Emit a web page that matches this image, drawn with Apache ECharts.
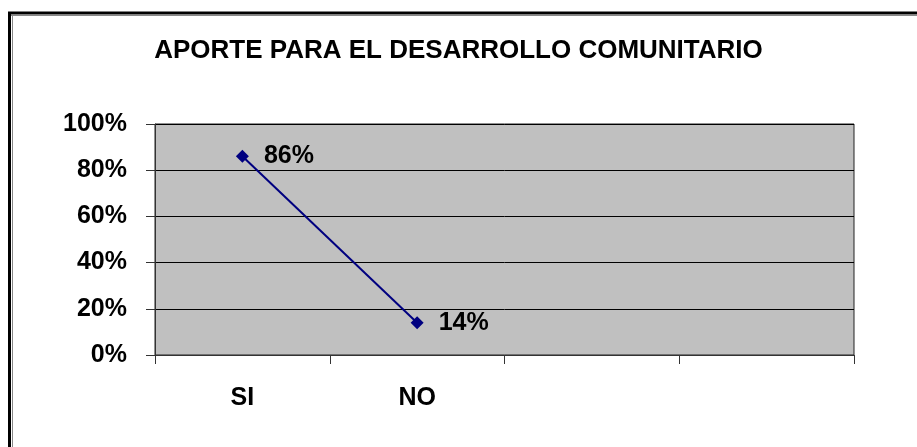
<!DOCTYPE html>
<html>
<head>
<meta charset="utf-8">
<script src="https://cdn.jsdelivr.net/npm/echarts@6/dist/echarts.min.js"></script>
<style>
html,body{margin:0;padding:0;background:#fff;}
#chart{width:917px;height:447px;}
</style>
</head>
<body>
<div id="chart"></div>
<script>
var titleText = 'APORTE PARA EL DESARROLLO COMUNITARIO';
var categories = ['SI', 'NO', '', ''];
var values = [0.86, 0.14];
var yTicks = [0, 0.2, 0.4, 0.6, 0.8, 1.0];

var chart = echarts.init(document.getElementById('chart'), null, {renderer: 'canvas'});
var FONT = '"Liberation Sans", Arial, sans-serif';
chart.setOption({
  animation: false,
  backgroundColor: '#fff',
  title: {
    text: titleText,
    left: 'center',
    top: 33,
    textStyle: {fontFamily: FONT, fontWeight: 'bold', fontSize: 26, color: '#000'}
  },
  graphic: [
    {type: 'line', shape: {x1: 8, y1: 13, x2: 917, y2: 13}, style: {stroke: '#000', lineWidth: 3}},
    {type: 'line', shape: {x1: 11, y1: 15.5, x2: 917, y2: 15.5}, style: {stroke: '#888', lineWidth: 1}},
    {type: 'line', shape: {x1: 9.5, y1: 12, x2: 9.5, y2: 447}, style: {stroke: '#000', lineWidth: 3}},
    {type: 'line', shape: {x1: 12.5, y1: 15, x2: 12.5, y2: 447}, style: {stroke: '#888', lineWidth: 1}}
  ],
  grid: {left: 155, right: 63, top: 124, bottom: 92, show: true, backgroundColor: '#C0C0C0', borderColor: '#222', borderWidth: 1},
  xAxis: {
    type: 'category',
    data: categories,
    boundaryGap: true,
    axisLine: {show: true, lineStyle: {color: '#333', width: 1}},
    axisTick: {show: true, length: 9, alignWithLabel: false, lineStyle: {color: '#333'}},
    axisLabel: {margin: 31, fontFamily: FONT, fontWeight: 'bold', fontSize: 25, color: '#000'},
    splitLine: {show: false}
  },
  yAxis: {
    type: 'value',
    min: 0, max: 1, interval: 0.2,
    axisLine: {show: true, lineStyle: {color: '#333', width: 1}},
    axisTick: {show: true, length: 9, lineStyle: {color: '#333'}},
    axisLabel: {
      margin: 28,
      fontFamily: FONT, fontWeight: 'bold', fontSize: 25, color: '#000',
      formatter: function (v) { return Math.round(v * 100) + '%'; }
    },
    splitLine: {show: true, lineStyle: {color: '#000', width: 1}}
  },
  series: [{
    type: 'line',
    data: values,
    symbol: 'diamond',
    symbolSize: 13,
    itemStyle: {color: '#000080'},
    lineStyle: {color: '#000080', width: 2},
    label: {
      show: true,
      position: 'right',
      distance: 15,
      fontFamily: FONT, fontWeight: 'bold', fontSize: 25, color: '#000',
      formatter: function (p) { return Math.round(p.value * 100) + '%'; }
    }
  }]
});
</script>
</body>
</html>
